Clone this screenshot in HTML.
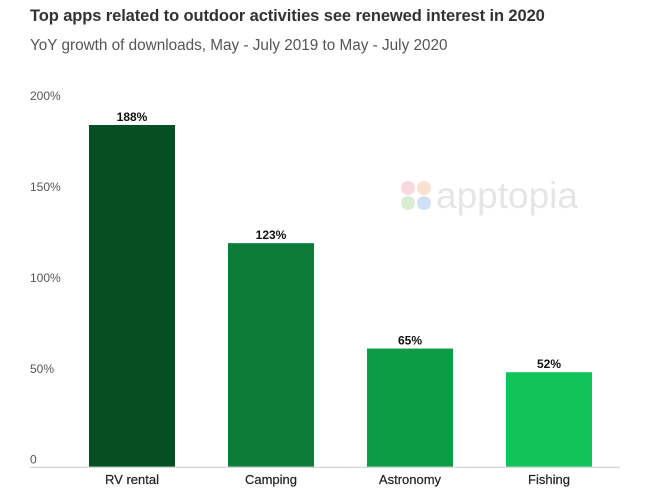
<!DOCTYPE html>
<html><head><meta charset="utf-8"><style>
body{margin:0;background:#fff;font-family:"Liberation Sans",sans-serif}
#wrap{position:relative;width:650px;height:490px;overflow:hidden}
.t{position:absolute;left:30px;top:7px;font-size:16.5px;font-weight:bold;color:#333;letter-spacing:-0.1px}
.s{position:absolute;left:30px;top:37px;font-size:15.3px;color:#555}
</style></head><body>
<div id="wrap">
<div class="t">Top apps related to outdoor activities see renewed interest in 2020</div>
<div class="s">YoY growth of downloads, May - July 2019 to May - July 2020</div>
<svg id="svg" width="650" height="490" style="position:absolute;left:0;top:0">
<g opacity="0.5">
<circle cx="408" cy="188" r="7" fill="#f4b4c4"/><circle cx="424" cy="188" r="7" fill="#f6c4a4"/>
<circle cx="408" cy="203" r="7" fill="#b4dca4"/><circle cx="424" cy="203" r="7" fill="#a4c4ec"/>
<text x="436" y="208" font-size="37" fill="#ccc" font-family="Liberation Sans, sans-serif">apptopia</text>
</g>
</svg>
</div>
<script>
const categories=["RV rental","Camping","Astronomy","Fishing"];
const values=[188,123,65,52];
const valueLabels=["188%","123%","65%","52%"];
const ticks=[0,50,100,150,200];
const tickLabels=["0","50%","100%","150%","200%"];
const colors=["#064f24","#0b7c3a","#0d9c46","#12c35a"];
const svg=document.getElementById('svg');const NS='http://www.w3.org/2000/svg';
const y0=466.7,k=1.8176;
const y=v=>y0-v*k;
const x=i=>89+i*139;const bw=86;
function mk(t,a,txt){const e=document.createElementNS(NS,t);for(const n in a)e.setAttribute(n,a[n]);if(txt!=null)e.textContent=txt;svg.appendChild(e);return e;}
ticks.forEach((t,i)=>{const e=mk('text',{x:30,y:y(t)-3,'font-size':12,fill:'#555'},tickLabels[i]);

});
values.forEach((v,i)=>{
const r=mk('rect',{x:x(i),y:y(v),width:bw,height:v*k,fill:colors[i]});


const l=mk('text',{x:x(i)+bw/2,y:y(v)-4,'font-size':12,'font-weight':'bold','text-anchor':'middle',fill:'#111'},valueLabels[i]);


const c=mk('text',{x:x(i)+bw/2,y:484,'font-size':13,'font-weight':'500','text-anchor':'middle',fill:'#222','stroke':'#222','stroke-width':0.2},categories[i]);


});
const ax=mk('line',{x1:30,x2:620,y1:y0+0.5,y2:y0+0.5,stroke:'#ccc','stroke-width':1});


</script>
</body></html>
